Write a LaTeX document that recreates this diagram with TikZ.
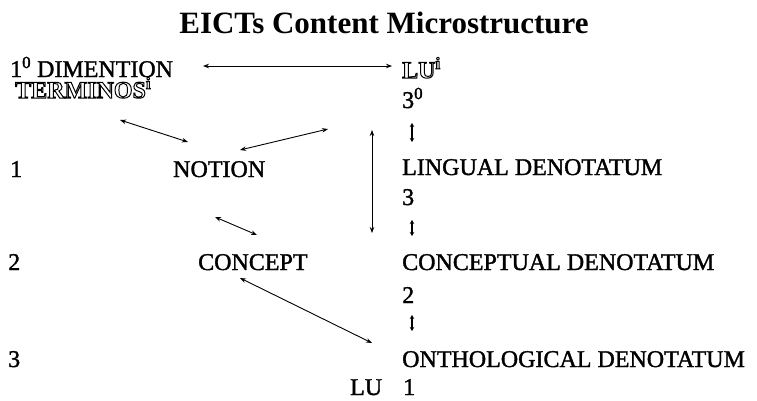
\documentclass[tikz,border=0pt]{standalone}
\usepackage{fontspec}
\setmainfont{Liberation Serif}
\usetikzlibrary{arrows.meta}

% text rendering modes: 2 = fill and stroke (darker glyphs), 1 = stroke only (hollow glyphs)
\newcommand{\heavyon}{\special{pdf:literal direct 2 Tr 0.35 w}}
\newcommand{\hollowon}{\special{pdf:literal direct 1 Tr 1.0 w}}
\newcommand{\plainon}{\special{pdf:literal direct 0 Tr 0.4 w}}

\tikzset{
  lbl/.style={anchor=base west, inner sep=0pt, font=\fontsize{24}{28}\selectfont,
    execute at begin node=\heavyon, execute at end node=\plainon},
  hollow/.style={anchor=base west, inner sep=0pt, font=\fontsize{24}{28}\selectfont\bfseries,
    execute at begin node=\hollowon, execute at end node=\plainon},
  ttl/.style={anchor=base, inner sep=0pt, font=\fontsize{31}{36}\selectfont\bfseries},
  link/.style={line width=0.9pt, {Stealth[length=6pt,width=4.5pt]}-{Stealth[length=6pt,width=4.5pt]}},
  tiny/.style={line width=1.3pt, {Stealth[length=4pt,width=4.5pt]}-{Stealth[length=4pt,width=4.5pt]}}
}

\begin{document}
\begin{tikzpicture}[x=1pt,y=-1pt]
  \useasboundingbox (0,0) rectangle (757,400);

  % heading
  \node[ttl] (title) at (384,33) {EICTs Content Microstructure};

  % left column: levels and concepts
  \node[lbl] (dim)   at (10,77)  {1\textsuperscript{0} DIMENTION};
  \node[hollow] (term) at (15,98) {TERMINOS\textsuperscript{i}};
  \node[lbl] (n1)    at (10,177) {1};
  \node[lbl] (notion) at (173,177) {NOTION};
  \node[lbl] (n2)    at (8,270)  {2};
  \node[lbl] (concept) at (198,270) {CONCEPT};
  \node[lbl] (n3)    at (8,367)  {3};
  \node[lbl] (lu)    at (350,395) {LU};

  % right column: denotata
  \node[hollow] (lui) at (402,78) {LU\textsuperscript{i}};
  \node[lbl] (three0) at (402,108) {3\textsuperscript{0}};
  \node[lbl] (ling)   at (402,175) {LINGUAL DENOTATUM};
  \node[lbl] (r3)     at (402,205) {3};
  \node[lbl] (conc)   at (402,270) {CONCEPTUAL DENOTATUM};
  \node[lbl] (r2)     at (402,303) {2};
  \node[lbl] (onto)   at (402,367) {ONTHOLOGICAL DENOTATUM};
  \node[lbl] (r1)     at (403,395) {1};

  % connector end points
  \coordinate (d1) at (203,66);   \coordinate (d2) at (392,66);
  \coordinate (t1) at (120,120);  \coordinate (t2) at (188,142);
  \coordinate (u1) at (240,150);  \coordinate (u2) at (328,129);
  \coordinate (v1) at (372,130);  \coordinate (v2) at (372,233);
  \coordinate (c1) at (215,217);  \coordinate (c2) at (257,235);
  \coordinate (l1) at (240,278);  \coordinate (l2) at (372,343);
  \coordinate (s1) at (412,123);  \coordinate (s2) at (412,142);
  \coordinate (s3) at (412,220);  \coordinate (s4) at (412,236);
  \coordinate (s5) at (412,315);  \coordinate (s6) at (412,331);

  \draw[link] (d1) -- (d2);
  \draw[link] (t1) -- (t2);
  \draw[link] (u1) -- (u2);
  \draw[link] (v1) -- (v2);
  \draw[link] (c1) -- (c2);
  \draw[link] (l1) -- (l2);
  \draw[tiny] (s1) -- (s2);
  \draw[tiny] (s3) -- (s4);
  \draw[tiny] (s5) -- (s6);
\end{tikzpicture}
\end{document}
